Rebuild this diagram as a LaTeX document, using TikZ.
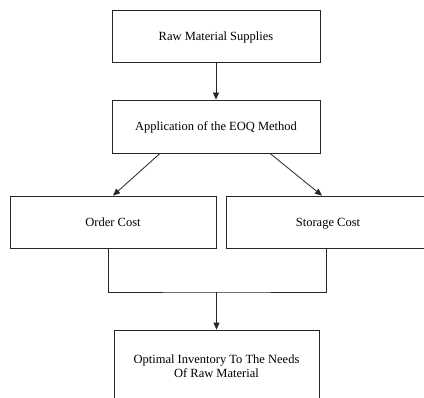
\documentclass[tikz,border=0pt]{standalone}
\usepackage{fontspec}
\setmainfont{Liberation Serif}
\usetikzlibrary{arrows.meta}
\begin{document}
\begin{tikzpicture}[x=1pt,y=-1pt,
  box/.style={draw=black!85,line width=0.8pt,rectangle,inner sep=0pt,align=center,font=\fontsize{12.5}{14}\selectfont},
  one/.style={text height=9pt,text depth=0pt},
  conn/.style={draw=black!85,line width=0.8pt},
  arr/.style={conn,-{Triangle[length=7pt,width=6pt]}}]
\fill[white] (0,0) rectangle (424,398);
\useasboundingbox (0,0) rectangle (424,398);
\clip (0,0) rectangle (424,398);
\node[box,one,minimum width=208pt,minimum height=52pt] (raw) at (216,36.5) {Raw Material Supplies};
\node[box,one,minimum width=208pt,minimum height=53pt] (eoq) at (216,126.5) {Application of the EOQ Method};
\node[box,one,minimum width=206pt,minimum height=52pt] (oc) at (113,222) {Order Cost};
\node[box,one,minimum width=204pt,minimum height=52pt] (sc) at (328,222) {Storage Cost};
\node[box,minimum width=205pt,minimum height=72pt] (fin) at (216.5,366) {Optimal Inventory To The Needs\\Of Raw Material};
\coordinate (j) at (216.5,292);
\draw[arr] (raw) -- (eoq);
\draw[arr] ([xshift=-56pt]eoq.south) -- (oc.north);
\draw[arr] ([xshift=54pt]eoq.south) -- ([xshift=-6pt]sc.north);
\draw[conn] ([xshift=-5pt]oc.south) |- (j) -| ([xshift=-2pt]sc.south);
\draw[arr] (j) -- (fin.north);
\end{tikzpicture}
\end{document}
